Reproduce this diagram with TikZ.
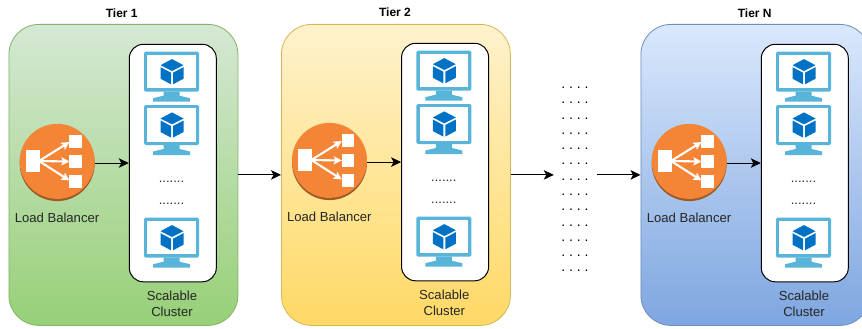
\documentclass[tikz,border=0pt]{standalone}
\usepackage{fontspec}
\setmainfont{Liberation Sans}
\usetikzlibrary{arrows.meta}
\definecolor{monblue}{HTML}{59B4D9}
\definecolor{cubeblue}{HTML}{0072C6}
\definecolor{lbor}{HTML}{F58536}
\definecolor{lbdk}{HTML}{9E5A26}
\definecolor{gtop}{HTML}{D5E8D4}\definecolor{gbot}{HTML}{97D077}\definecolor{gline}{HTML}{82B366}
\definecolor{ytop}{HTML}{FFF2CC}\definecolor{ybot}{HTML}{FFD966}\definecolor{yline}{HTML}{D6B656}
\definecolor{btop}{HTML}{DAE8FC}\definecolor{bbot}{HTML}{7EA6E0}\definecolor{bline}{HTML}{6C8EBF}
\tikzset{
  tierbox/.style={line width=0.8pt,rounded corners=30pt,minimum width=229pt,minimum height=301pt,inner sep=0pt,anchor=north west,shading angle=0},
  clusterbox/.style={draw=black,fill=white,line width=1pt,rounded corners=14pt,minimum width=87pt,minimum height=237.5pt,inner sep=0pt,anchor=north west},
  lbnode/.style={circle,minimum size=75pt,inner sep=0pt,fill=lbor},
  lbl/.style={font=\fontsize{13.1}{16}\selectfont,text=black!85,align=center,inner sep=0pt},
  clusterdots/.style={font=\fontsize{13}{16}\selectfont,text=black!85,inner sep=0pt},
  dotsrow/.style={font=\fontsize{14}{15.28}\selectfont\frenchspacing,align=center,inner sep=0pt},
  tiertitle/.style={font=\fontsize{12}{14}\selectfont\bfseries,inner sep=0pt},
  link/.style={line width=1pt,-{Stealth[length=10pt,width=9.5pt,inset=2.5pt]}},
  whitearrow/.style={white,line width=2.1pt,-{Stealth[length=8pt,width=8pt,inset=1.5pt]}},
  monitor/.pic={
    \fill[monblue,rounded corners=1.5pt] (-27.5,-20) rectangle (27.5,20);
    \fill[white] (-24.2,-16.7) rectangle (24.2,16.7);
    \fill[monblue] (-8,20) -- (8,20) -- (8,24) -- (18.5,26.5) -- (18.5,30) -- (-18.5,30) -- (-18.5,26.5) -- (-8,24) -- cycle;
    \fill[cubeblue] (0.5,-12.6) -- (12,-6.5) -- (0.5,-0.7) -- (-11,-6.5) -- cycle;
    \fill[cubeblue] (-11,-4.5) -- (-0.5,1) -- (-0.5,12.6) -- (-11,7) -- cycle;
    \fill[cubeblue] (12,-4.5) -- (1.5,1) -- (1.5,12.6) -- (12,7) -- cycle;
  },
}
% #1 name prefix
\newcommand{\tierbody}[1]{%
  \node[clusterbox] (#1c) at (128.8,43.8) {};
  \pic at (171.5,71.7) {monitor};
  \pic at (171.5,125) {monitor};
  \pic at (171.5,237.7) {monitor};
  \node[clusterdots] (#1d1) at (171.5,182) {.......};
  \node[clusterdots] (#1d2) at (171.5,204) {.......};
  \fill[lbdk] (57.2,163.6) circle (37.5);
  \node[lbnode] (#1lb) at (57.2,161.4) {};
  \fill[white] (25.7,149.5) rectangle (39.7,172);
  \fill[white] (69.2,135) rectangle (82,148);
  \fill[white] (69.2,155) rectangle (82,168);
  \fill[white] (69.2,175) rectangle (82,188);
  \draw[whitearrow] (39,161) -- (69.5,142);
  \draw[whitearrow] (39,161) -- (69.5,161.5);
  \draw[whitearrow] (39,161) -- (69.5,180.5);
  \node[lbl] (#1ll) at (57,217.7) {Load Balancer};
  \node[lbl] (#1sc) at (172,303.7) {Scalable\\Cluster};
  \draw[link] (#1lb.east |- #1c.west) -- (#1c.west);
}
\begin{document}
\begin{tikzpicture}[x=1pt,y=-1pt]
\useasboundingbox (0,0) rectangle (862,329);
\node[tierbox,draw=gline,top color=gtop,bottom color=gbot] (t1) at (8.5,24) {};
\node[tierbox,draw=yline,top color=ytop,bottom color=ybot] (t2) at (281,24) {};
\node[tierbox,draw=bline,top color=btop,bottom color=bbot] (tn) at (640.5,24) {};
\node[tiertitle] (t1t) at (121.7,13.5) {Tier 1};
\node[tiertitle] (t2t) at (395,12.5) {Tier 2};
\node[tiertitle] (tnt) at (754.7,13.5) {Tier N};
\begin{scope}\tierbody{a}\end{scope}
\begin{scope}[shift={(272.3,-1)}]\tierbody{b}\end{scope}
\begin{scope}[shift={(632,0)}]\tierbody{c}\end{scope}
\node[dotsrow] (dots) at (575,179.5) {. . . .\\. . . .\\. . . .\\. . . .\\. . . .\\. . . .\\. . . .\\. . . .\\. . . .\\. . . .\\. . . .\\. . . .\\. . . .};
\coordinate (e1) at ([xshift=43pt]t2.east);
\coordinate (s2) at ([xshift=-43.5pt]tn.west);
\draw[link] (t1.east) -- (t2.west);
\draw[link] (t2.east) -- (e1);
\draw[link] (s2) -- (tn.west);
\end{tikzpicture}
\end{document}
